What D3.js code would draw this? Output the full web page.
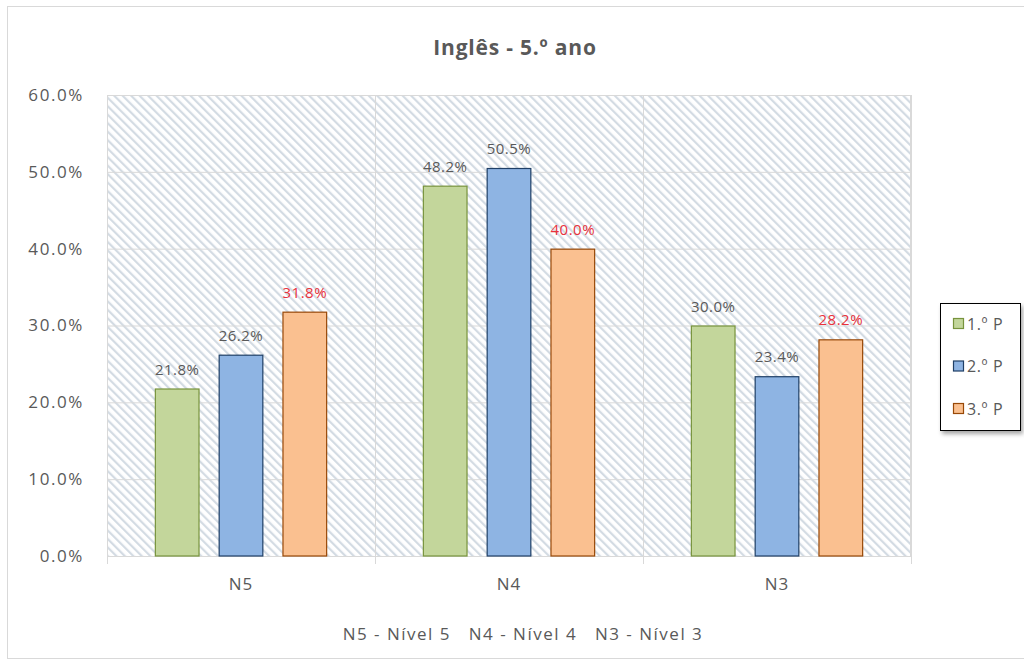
<!DOCTYPE html>
<html><head><meta charset="utf-8">
<script src="https://cdn.jsdelivr.net/npm/d3@7/dist/d3.min.js"></script>
<style>
body{margin:0;background:#fff;}
svg{display:block;font-family:"Open Sans","DejaVu Sans",sans-serif;}
</style></head>
<body>
<svg id="c" width="1024" height="662"></svg>
<script>
const categories = ["N5","N4","N3"];
const seriesNames = ["1.º P","2.º P","3.º P"];
const s1 = [21.8, 48.2, 30.0];
const s2 = [26.2, 50.5, 23.4];
const s3 = [31.8, 40.0, 28.2];
const yTicks = [0,10,20,30,40,50,60];
const title = "Inglês - 5.º ano";
const footnote = "N5 - Nível 5   N4 - Nível 4   N3 - Nível 3";

const series = [s1,s2,s3];
const fills = ["#c3d69b","#8eb4e3","#fac090"];
const strokes = ["#77933c","#1f3f66","#984807"];
const labelColors = ["#595959","#595959","#e8323c"];

const svg = d3.select("#c");
const defs = svg.append("defs");
const pat = defs.append("pattern").attr("id","hatch").attr("patternUnits","userSpaceOnUse")
  .attr("width",6).attr("height",6).attr("patternTransform","rotate(-45)");
pat.append("rect").attr("width",6).attr("height",6).attr("fill","#fff");
pat.append("rect").attr("x",0).attr("y",0).attr("width",2.2).attr("height",6).attr("fill","#d3dbe3");
const sh = defs.append("filter").attr("id","sh").attr("x","-20%").attr("y","-20%").attr("width","150%").attr("height","150%");
sh.append("feDropShadow").attr("dx",2).attr("dy",3).attr("stdDeviation",2).attr("flood-color","#000").attr("flood-opacity",0.35);

// outer frame
svg.append("rect").attr("x",7.5).attr("y",6.5).attr("width",1030).attr("height",652)
  .attr("fill","none").attr("stroke","#d9d9d9");

const L=107,R=911,T=95,B=556;
const x = d3.scaleBand().domain(categories).range([L,R]);
const y = d3.scaleLinear().domain([0,60]).range([B,T]);
const xs = d3.scaleBand().domain([0,1,2]).range([0,x.bandwidth()]).paddingInner(0.3).paddingOuter(0.75);

svg.append("rect").attr("x",L).attr("y",T).attr("width",R-L).attr("height",B-T).attr("fill","url(#hatch)");

// gridlines
svg.append("g").selectAll("line").data(yTicks.slice(1)).join("line")
  .attr("x1",L).attr("x2",R).attr("y1",d=>y(d)+0.5).attr("y2",d=>y(d)+0.5)
  .attr("stroke","#d9d9d9").attr("stroke-width",1);
const bounds = categories.map(c=>x(c)).concat([R]);
svg.append("g").selectAll("line").data(bounds).join("line")
  .attr("x1",d=>Math.round(d)+0.5).attr("x2",d=>Math.round(d)+0.5).attr("y1",T).attr("y2",B+8)
  .attr("stroke","#d9d9d9");
svg.append("line").attr("x1",L).attr("x2",R).attr("y1",B+0.5).attr("y2",B+0.5).attr("stroke","#d9d9d9");
svg.append("rect").attr("x",L+0.5).attr("y",T+0.5).attr("width",R-L-1).attr("height",B-T).attr("fill","none").attr("stroke","#d9d9d9");

const FF = "'Open Sans','DejaVu Sans',sans-serif";
// y axis labels
const yAxis = d3.axisLeft(y).tickValues(yTicks).tickSize(0).tickPadding(10).tickFormat(d=>d.toFixed(1)+"%");
const ya = svg.append("g").attr("transform",`translate(${L},0)`).call(yAxis);
ya.select(".domain").remove();
ya.selectAll("text").attr("font-size",17).attr("letter-spacing",1.6).attr("fill","#595959").attr("x",-23).attr("font-family",FF);

// x axis labels
const xAxis = d3.axisBottom(x).tickSize(0).tickPadding(22);
const xa = svg.append("g").attr("transform",`translate(0,${B})`).call(xAxis);
xa.select(".domain").remove();
xa.selectAll("text").attr("font-size",17).attr("letter-spacing",1).attr("fill","#595959").attr("font-family",FF);

// bars
series.forEach((vals,si)=>{
  const g = svg.append("g");
  g.selectAll("rect").data(vals).join("rect")
    .attr("x",(d,i)=>x(categories[i])+xs(si)+0.5)
    .attr("y",d=>y(d)+0.5)
    .attr("width",xs.bandwidth()-1)
    .attr("height",d=>B-y(d)-0.5)
    .attr("fill",fills[si]).attr("stroke",strokes[si]).attr("stroke-width",1.2);
  g.selectAll("text").data(vals).join("text")
    .attr("x",(d,i)=>x(categories[i])+xs(si)+xs.bandwidth()/2)
    .attr("y",d=>y(d)-14)
    .attr("text-anchor","middle").attr("font-size",15).attr("letter-spacing",0.5)
    .attr("fill",labelColors[si])
    .text(d=>d.toFixed(1)+"%");
});

// title
svg.append("text").attr("x",515).attr("y",55).attr("text-anchor","middle")
  .attr("font-size",21).attr("font-weight","bold").attr("letter-spacing",0.8).attr("fill","#595959").text(title);

// footnote
svg.append("text").attr("x",523).attr("y",640).attr("text-anchor","middle")
  .attr("font-size",17).attr("letter-spacing",1.5).attr("fill","#595959").style("white-space","pre").text(footnote);

// legend
const lg = svg.append("g").attr("transform","translate(940,303)");
lg.append("rect").attr("x",0.5).attr("y",0.5).attr("width",80).attr("height",127)
  .attr("fill","#fff").attr("stroke","#000").attr("stroke-width",1).attr("filter","url(#sh)");
seriesNames.forEach((n,i)=>{
  const yy = 21 + i*42.5;
  lg.append("rect").attr("x",13.5).attr("y",yy-5.5).attr("width",10).attr("height",10)
    .attr("fill",fills[i]).attr("stroke",strokes[i]).attr("stroke-width",1.2);
  lg.append("text").attr("x",27).attr("y",yy+5.5).attr("font-size",16).attr("letter-spacing",0.6).attr("fill","#595959").text(n);
});
</script>
</body></html>
